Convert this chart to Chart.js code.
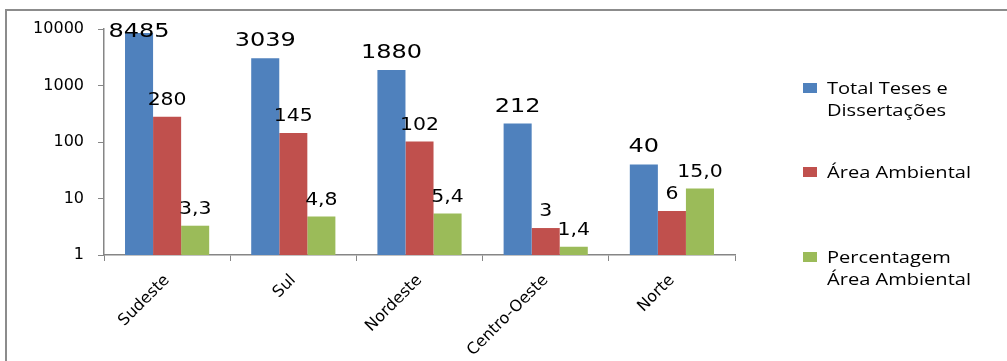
<!DOCTYPE html>
<html>
<head>
<meta charset="utf-8">
<script src="https://cdn.jsdelivr.net/npm/chart.js@4/dist/chart.umd.min.js"></script>
<style>
  html, body { margin: 0; padding: 0; background: #fff; }
  #wrap { position: relative; width: 1007px; height: 361px; overflow: hidden; }
  #frame { position: absolute; left: 5px; top: 9px; width: 1100px; height: 500px;
           border: 2px solid #8c8c8c; box-sizing: border-box; }
  canvas { position: absolute; left: 0; top: 0; }
  .leg { position: absolute; left: 803px; font-family: "Open Sans", sans-serif;
         font-size: 17px; line-height: 22px; color: #000; }
  .leg .sw { position: absolute; left: 0; top: 6px; width: 14px; height: 10px; }
  .leg .tx { position: absolute; left: 24px; top: 0; white-space: nowrap;
             transform: scaleX(1.18); transform-origin: left top; }
</style>
</head>
<body>
<div id="wrap">
  <div id="frame"></div>
  <canvas id="c" width="1007" height="361"></canvas>
</div>
<script>
// Regions and counts of theses/dissertations
const regioes = ['Sudeste', 'Sul', 'Nordeste', 'Centro-Oeste', 'Norte'];
const totalTeses = [8485, 3039, 1880, 212, 40];
const areaAmbiental = [280, 145, 102, 3, 6];
const percentagem = [3.3, 4.8, 5.4, 1.4, 15.0];
const yTicks = [1, 10, 100, 1000, 10000];

const serieNomes = [['Total Teses e', 'Dissertações'], ['Área Ambiental'], ['Percentagem', 'Área Ambiental']];
const serieCores = ['#4F81BD', '#C0504D', '#9BBB59'];
const legendTops = [77, 161, 246];

// Value labels above each bar
const valueLabels = {
  id: 'valueLabels',
  afterDatasetsDraw(chart) {
    const ctx = chart.ctx;
    ctx.save();
    ctx.fillStyle = '#000';
    ctx.textAlign = 'center';
    ctx.textBaseline = 'alphabetic';
    chart.data.datasets.forEach((ds, di) => {
      const meta = chart.getDatasetMeta(di);
      ctx.font = (di === 0 ? '20px' : '17px') + ' "DejaVu Sans", sans-serif';
      meta.data.forEach((bar, i) => {
        const v = ds.data[i];
        const txt = di === 2 ? v.toFixed(1).replace('.', ',') : String(v);
        const y = Math.max(bar.y - 12, 37);
        ctx.save();
        ctx.translate(bar.x, y);
        ctx.scale(1.2, 1);
        ctx.fillText(txt, 0, 0);
        ctx.restore();
      });
    });
    ctx.restore();
  }
};

const chart = new Chart(document.getElementById('c'), {
  type: 'bar',
  data: {
    labels: regioes,
    datasets: [
      { label: serieNomes[0], data: totalTeses, backgroundColor: serieCores[0] },
      { label: serieNomes[1], data: areaAmbiental, backgroundColor: serieCores[1] },
      { label: serieNomes[2], data: percentagem, backgroundColor: serieCores[2] }
    ]
  },
  options: {
    responsive: false,
    animation: false,
    layout: { padding: { left: 0, top: 29, right: 272, bottom: 0 } },
    datasets: { bar: { categoryPercentage: 0.667, barPercentage: 1.0 } },
    plugins: { legend: { display: false }, tooltip: { enabled: false } },
    scales: {
      x: {
        grid: { offset: true, drawOnChartArea: false, tickLength: 6, color: '#868686' },
        border: { color: '#868686', width: 1.5 },
        ticks: {
          maxRotation: 45, minRotation: 45, color: '#000', padding: 10,
          font: { family: '"DejaVu Sans", sans-serif', size: 16 }
        },
        afterFit(scale) { scale.height = 106; }
      },
      y: {
        type: 'logarithmic',
        min: 1, max: 10000,
        afterBuildTicks(scale) { scale.ticks = yTicks.map(v => ({ value: v })); },
        grid: { drawOnChartArea: false, tickLength: 6, color: '#868686' },
        border: { color: '#868686', width: 1.5 },
        ticks: {
          color: '#000', padding: 14,
          font: { family: '"DejaVu Sans", sans-serif', size: 16 },
          callback: v => String(v)
        },
        afterFit(scale) { scale.width = 104; }
      }
    }
  },
  plugins: [valueLabels]
});

// Legend built from the dataset names and colours
const wrap = document.getElementById('wrap');
chart.data.datasets.forEach((ds, i) => {
  const item = document.createElement('div');
  item.className = 'leg';
  item.style.top = legendTops[i] + 'px';
  const sw = document.createElement('div');
  sw.className = 'sw';
  sw.style.background = ds.backgroundColor;
  const tx = document.createElement('div');
  tx.className = 'tx';
  tx.innerHTML = ds.label.join('<br>');
  item.appendChild(sw);
  item.appendChild(tx);
  wrap.appendChild(item);
});
</script>
</body>
</html>
